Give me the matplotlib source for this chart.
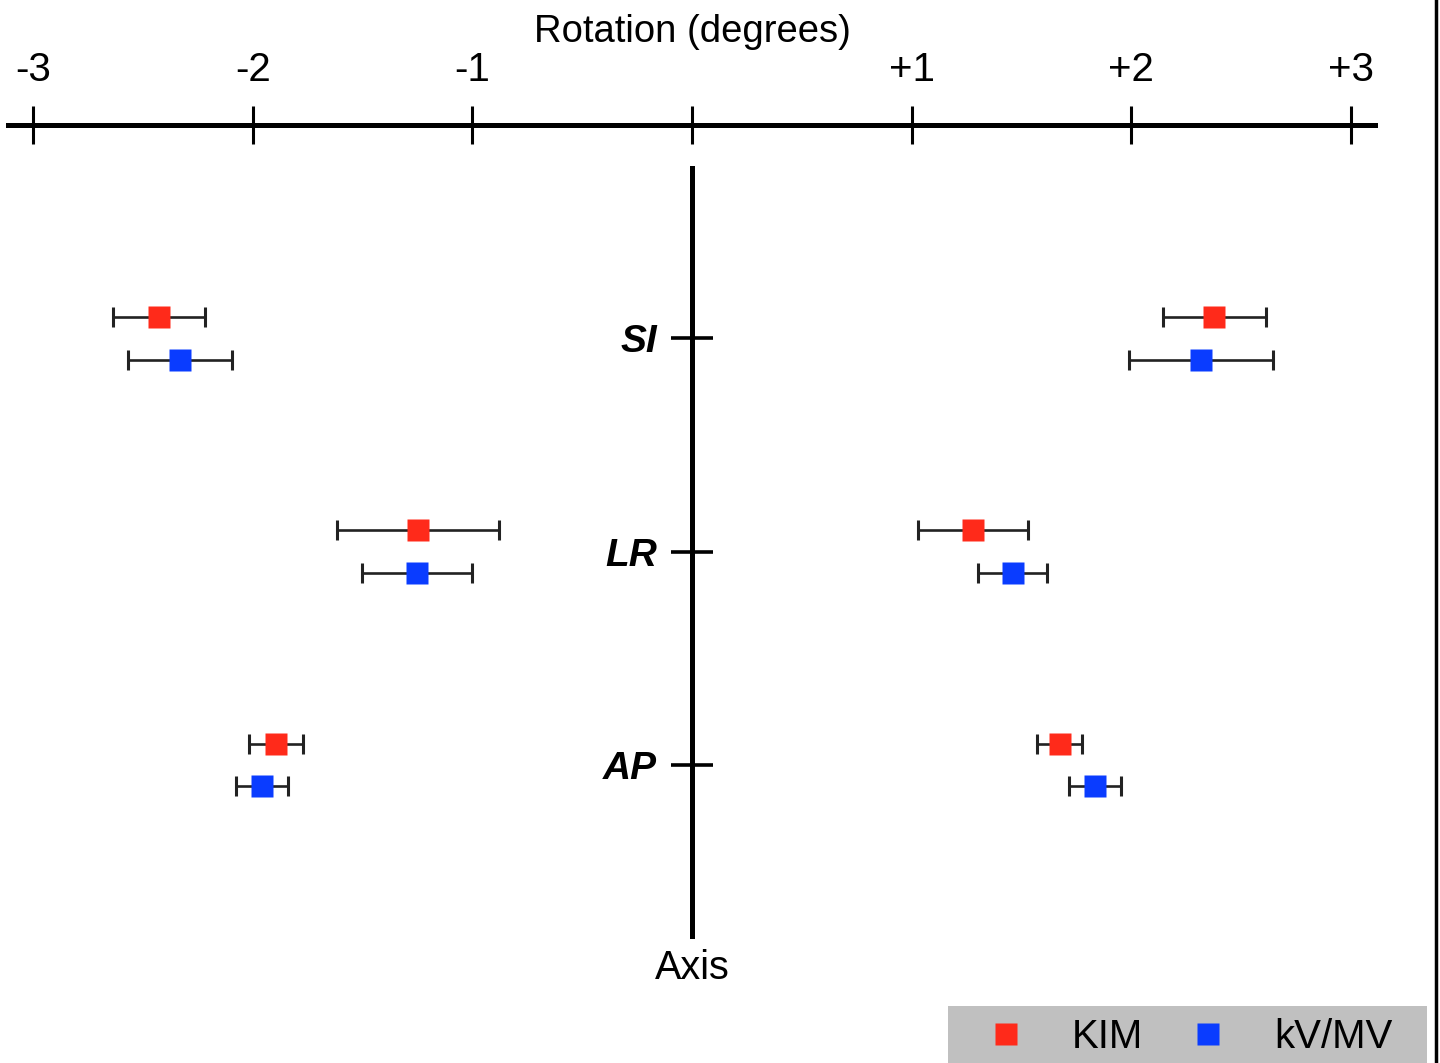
import numpy as np
import matplotlib
matplotlib.use("Agg")
import matplotlib.pyplot as plt
from matplotlib.lines import Line2D
from matplotlib.patches import Rectangle

# Rotation axes, drawn from the top (SI) to the bottom (AP)
axis_names = ["SI", "LR", "AP"]
axis_pos = [3, 2, 1]

# Mean rotation (degrees) and error half-width, negative and positive side
kim_neg = [-2.427, -1.248, -1.893]
kim_neg_err = [0.208, 0.368, 0.124]
kim_pos = [2.377, 1.281, 1.673]
kim_pos_err = [0.235, 0.250, 0.102]

kv_neg = [-2.331, -1.250, -1.957]
kv_neg_err = [0.238, 0.250, 0.119]
kv_pos = [2.317, 1.460, 1.834]
kv_pos_err = [0.328, 0.156, 0.117]

x_ticks = [-3, -2, -1, 0, 1, 2, 3]
x_tick_labels = ["-3", "-2", "-1", "", "+1", "+2", "+3"]

plt.rcParams["font.family"] = ["Liberation Sans", "DejaVu Sans"]

fig = plt.figure(figsize=(14.4, 10.63), dpi=100)
ax = fig.add_axes([0, 0, 1, 1])
ax.set_xlim(-3.150, 3.405)
ax.set_ylim(-0.396, 4.585)

y = np.array(axis_pos, dtype=float)
off = 0.1
red = "#ff2a1a"
blue = "#0a3cff"
err_kw = dict(fmt="s", ms=16, mec="none", ecolor="#222222", elinewidth=1.9,
              capsize=7.5, capthick=2.2)

ax.errorbar(kim_neg, y + off, xerr=kim_neg_err, mfc=red, **err_kw)
ax.errorbar(kim_pos, y + off, xerr=kim_pos_err, mfc=red, **err_kw)
ax.errorbar(kv_neg, y - off, xerr=kv_neg_err, mfc=blue, **err_kw)
ax.errorbar(kv_pos, y - off, xerr=kv_pos_err, mfc=blue, **err_kw)

# top axis = rotation scale, left spine = vertical "Axis" line at 0
for s in ["right", "bottom"]:
    ax.spines[s].set_visible(False)
ax.spines["top"].set_position(("data", 4))
ax.spines["top"].set_bounds(-3.114, 3.109)
ax.spines["top"].set_linewidth(3.6)
ax.spines["left"].set_position(("data", 0))
ax.spines["left"].set_bounds(0.2, 3.8)
ax.spines["left"].set_linewidth(3.6)

ax.xaxis.set_ticks_position("top")
ax.set_xticks(x_ticks)
ax.set_xticklabels(x_tick_labels, fontsize=29)
ax.tick_params(axis="x", direction="inout", length=28, width=2.2, pad=12)

ax.set_yticks(axis_pos)
ax.set_yticklabels(axis_names, fontsize=28, fontweight="bold", fontstyle="italic")
ax.tick_params(axis="y", direction="inout", length=30, width=2.6, pad=10)

ax.text(0, 4.435, "Rotation (degrees)", ha="center", va="center", fontsize=27.5)
ax.text(0, 0.05, "Axis", ha="center", va="center", fontsize=28.5)

# grey legend box at the bottom right
fig.add_artist(Rectangle((948 / 1440, 0), 479 / 1440, 57 / 1063,
                         transform=fig.transFigure, facecolor="#c0c0c0",
                         edgecolor="none", zorder=4))
handles = [Line2D([], [], ls="none", marker="s", ms=16, mfc=red, mec="none"),
           Line2D([], [], ls="none", marker="s", ms=16, mfc=blue, mec="none")]
leg = fig.legend(handles, ["KIM", "kV/MV"], ncol=2, loc="center",
                 bbox_to_anchor=(1189 / 1440, 1 - 1037 / 1063),
                 bbox_transform=fig.transFigure, fontsize=29, frameon=False,
                 handlelength=1.0, handletextpad=1.15, columnspacing=1.1,
                 borderpad=0, borderaxespad=0)
leg.set_zorder(5)

# dark border line at the right edge of the picture
fig.add_artist(Line2D([1436 / 1440, 1436 / 1440], [0, 1], transform=fig.transFigure,
                      color="black", lw=2.5))

fig.savefig("out.png", dpi=100)
